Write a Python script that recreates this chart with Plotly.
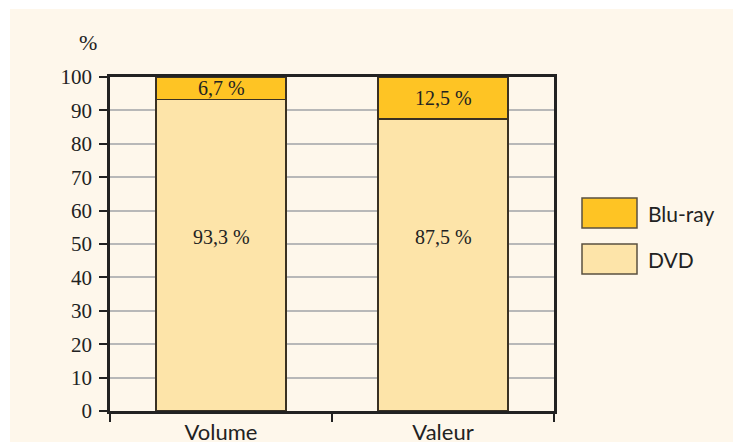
import plotly.graph_objects as go

categories = ["Volume", "Valeur"]
dvd = [93.3, 87.5]
bluray = [6.7, 12.5]
y_ticks = [0, 10, 20, 30, 40, 50, 60, 70, 80, 90, 100]
dvd_label_level = 52

CREAM = "#FEF7EB"
C_BLU = "#FEC424"
C_DVD = "#FDE4A9"
EDGE = "#3a3122"

def fmt(v):
    return f"{v:.1f}".replace(".", ",") + " %"

fig = go.Figure()
fig.add_trace(go.Bar(x=categories, y=dvd, name="DVD", marker=dict(color=C_DVD, line=dict(color=EDGE, width=1.5)), showlegend=False))
fig.add_trace(go.Bar(x=categories, y=bluray, name="Blu-ray", marker=dict(color=C_BLU, line=dict(color=EDGE, width=1.5)), showlegend=False))

OFF = 8  # page body margin
W, H = 741 - OFF, 442 - OFF
PL, PR, PT, PB = 110, 554, 77, 411  # plot area in page pixels
L, T = PL - OFF, PT - OFF
R, B = W - (PR - OFF), H - (PB - OFF)
pw, ph = PR - PL, PB - PT

def px(x):
    return (x - PL) / pw

def py(y):
    return (PB - y) / ph

annotations = []
for c, d, b in zip(categories, dvd, bluray):
    annotations.append(dict(x=c, y=dvd_label_level, text=fmt(d), showarrow=False,
                            font=dict(family="Liberation Serif", size=20, color="#222")))
    annotations.append(dict(x=c, y=d + b / 2, text=fmt(b), showarrow=False,
                            font=dict(family="Liberation Serif", size=20, color="#222")))

annotations.append(dict(xref="paper", yref="paper", x=px(88), y=py(42), text="%", showarrow=False,
                        xanchor="center", yanchor="middle",
                        font=dict(family="Liberation Serif", size=22, color="#222")))

shapes = [
    dict(type="rect", xref="paper", yref="paper", x0=px(10), x1=px(760), y0=py(460), y1=py(9),
         fillcolor=CREAM, line=dict(width=0), layer="below"),
]
legend_items = [("Blu-ray", C_BLU, 198, 228), ("DVD", C_DVD, 244, 274)]
for name, col, y0, y1 in legend_items:
    shapes.append(dict(type="rect", xref="paper", yref="paper", x0=px(582), x1=px(637), y0=py(y1), y1=py(y0),
                       fillcolor=col, line=dict(color="#5a5040", width=1.5)))
    annotations.append(dict(xref="paper", yref="paper", x=px(646), y=py((y0 + y1) / 2), text=name,
                            xanchor="left", showarrow=False,
                            font=dict(family="Lato", size=21, color="#222")))

fig.update_layout(
    width=W, height=H,
    margin=dict(l=L, r=R, t=T, b=B, pad=0),
    paper_bgcolor="white",
    plot_bgcolor=CREAM,
    barmode="stack",
    bargap=0.415,
    shapes=shapes,
    annotations=annotations,
    xaxis=dict(showline=True, linecolor="#222", linewidth=2.5, mirror=True, automargin=False,
               ticks="outside", tickson="boundaries", ticklen=8, tickwidth=1.5, tickcolor="#222",
               tickfont=dict(family="Lato", size=22, color="#222"), showgrid=False),
    yaxis=dict(range=[0, 100], tickvals=y_ticks, showline=True, linecolor="#222", linewidth=2.5, mirror=True,
               automargin=False, ticklabelstandoff=3,
               ticks="outside", ticklen=8, tickwidth=1.5, tickcolor="#222",
               tickfont=dict(family="Liberation Serif", size=21, color="#222"),
               showgrid=True, gridcolor="#b8b8b8", gridwidth=1.5, zeroline=False),
)

fig.write_html("out.html")
